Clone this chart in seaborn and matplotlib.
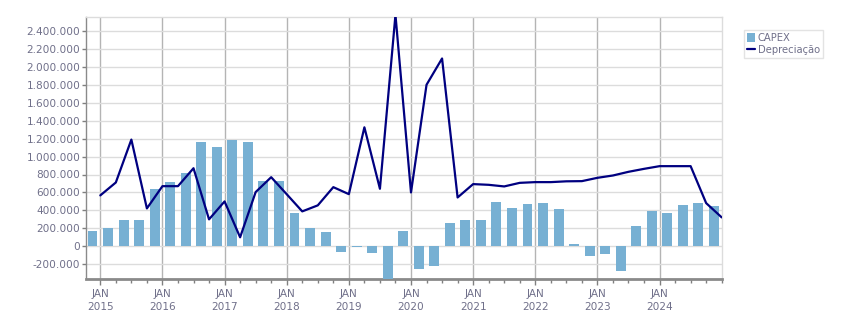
import matplotlib
matplotlib.use("Agg")
import matplotlib.pyplot as plt
import matplotlib.ticker as mticker
from matplotlib.patches import Patch
from matplotlib.lines import Line2D
import seaborn as sns
import pandas as pd

# ---- data (quarterly) ----
capex = [167000, 200000, 289000, 289000, 633000, 711000, 822000, 1167000, 1111000,
         1189000, 1167000, 733000, 733000, 367000, 200000, 156000, -67000, -11000,
         -78000, -390000, 167000, -256000, -222000, 256000, 289000, 289000, 489000,
         422000, 467000, 478000, 411000, 22000, -111000, -89000, -278000, 222000,
         389000, 367000, 456000, 478000, 444000]
depreciacao = [567000, 711000, 1189000, 422000, 670000, 670000, 870000, 300000, 500000,
               100000, 604000, 770000, 580000, 389000, 456000, 659000, 581000, 1326000,
               641000, 2580000, 600000, 1800000, 2093000, 544000, 693000, 685000, 667000,
               707000, 715000, 715000, 724000, 726000, 763000, 789000, 830000, 863000,
               893000, 893000, 893000, 481000, 322000]
years = ["2015", "2016", "2017", "2018", "2019", "2020", "2021", "2022", "2023", "2024"]
year_labels = ["JAN\n" + y for y in years]
yticks = [-200000, 0, 200000, 400000, 600000, 800000, 1000000, 1200000, 1400000,
          1600000, 1800000, 2000000, 2200000, 2400000]

bar_color = "#77b0d3"
line_color = "#000080"
label_color = "#70708a"

df_bar = pd.DataFrame({"x": [i - 0.5 for i in range(len(capex))], "v": capex})
df_line = pd.DataFrame({"x": list(range(len(depreciacao))), "v": depreciacao})

sns.set_style("white")
plt.rcParams["font.family"] = ["DejaVu Sans"]

fig = plt.figure(figsize=(8.51, 3.13), dpi=100)
ax = fig.add_axes([86 / 851, 1 - 279.3 / 313, (721.7 - 86) / 851, (279.3 - 17.3) / 313])

sns.barplot(data=df_bar, x="x", y="v", native_scale=True, width=0.64,
            color=bar_color, saturation=1, ax=ax, zorder=3, linewidth=0)
sns.lineplot(data=df_line, x="x", y="v", color=line_color, linewidth=1.6, ax=ax, zorder=4)

ax.set_xlim(-0.92, 40.0)
ax.set_ylim(-368000, 2552000)

ax.set_yticks(yticks)
ax.yaxis.set_major_formatter(mticker.FuncFormatter(lambda v, p: f"{int(round(v)):,}".replace(",", ".")))
ax.set_xticks([4 * i for i in range(len(years))])
ax.set_xticklabels(year_labels)
ax.set_xticks(list(range(0, 41)), minor=True)

ax.set_xlabel("")
ax.set_ylabel("")

ax.grid(axis="y", color="#dcdcdc", linewidth=1, zorder=0)
ax.grid(axis="x", which="major", color="#b4b4b4", linewidth=1, zorder=0)
ax.set_axisbelow(True)

ax.tick_params(axis="y", length=3, width=1, color="#808080", labelcolor=label_color,
               labelsize=7.6, pad=1, left=True)
ax.tick_params(axis="x", which="major", length=4, width=1, color="#808080",
               labelcolor=label_color, labelsize=7.6, pad=3, bottom=True)
ax.tick_params(axis="x", which="minor", length=3, width=1, color="#808080", bottom=True)
for lab in ax.get_xticklabels():
    lab.set_linespacing(1.35)

for side in ["top", "right"]:
    ax.spines[side].set_color("#dcdcdc")
    ax.spines[side].set_linewidth(1)
ax.spines["left"].set_color("#8a8a8a")
ax.spines["left"].set_linewidth(1)
ax.spines["bottom"].set_color("#8a8a8a")
ax.spines["bottom"].set_linewidth(2)

handles = [Patch(facecolor=bar_color, edgecolor="none"),
           Line2D([0], [0], color=line_color, linewidth=1.6)]
leg = fig.legend(handles, ["CAPEX", "Depreciação"], loc="upper left",
                 bbox_to_anchor=(744 / 851, 1 - 30 / 313), frameon=True, fancybox=False,
                 fontsize=7.2, handlelength=0.8, handleheight=0.9, handletextpad=0.3,
                 borderpad=0.3, labelspacing=0.2, borderaxespad=0)
leg.get_frame().set_edgecolor("#dcdcdc")
leg.get_frame().set_linewidth(1)
for t in leg.get_texts():
    t.set_color(label_color)

fig.savefig("out.png", dpi=100)
